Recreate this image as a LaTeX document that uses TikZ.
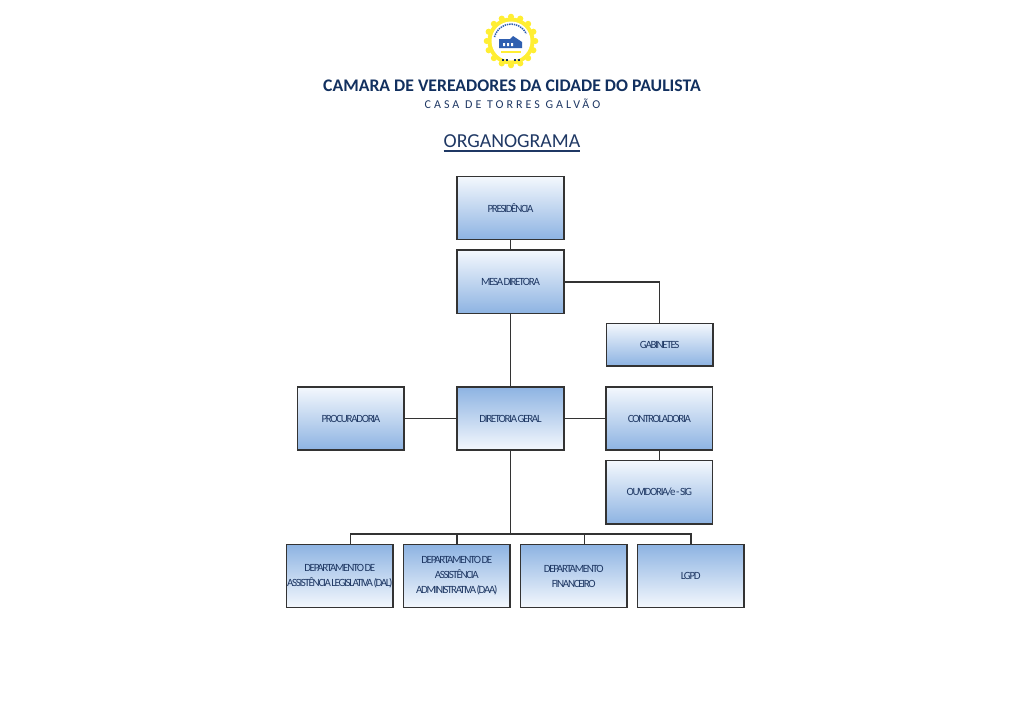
\documentclass[tikz,border=0pt]{standalone}
\usepackage{fontspec}
\usepackage{xcolor}
\usetikzlibrary{positioning, calc}
\setmainfont{Carlito}
\newfontfamily\boxfont[LetterSpace=-12,WordSpace=0.4]{Carlito}
\newfontfamily\wideFont[LetterSpace=25]{Carlito}
\definecolor{Camara_Navy}{HTML}{12305F}
\definecolor{Camara_Text}{HTML}{1F3864}
\definecolor{Camara_Blue}{HTML}{8DB3E2}
\definecolor{Camara_Pale}{HTML}{F4F8FD}
\definecolor{Camara_Line}{HTML}{333333}
\definecolor{Camara_Gold}{HTML}{FFEE33}
\definecolor{Camara_Roof}{HTML}{2F5FB0}

\begin{document}
\begin{tikzpicture}[
  x=1pt, y=1pt,
  every node/.style={text=Camara_Text, inner sep=0pt, outer sep=0pt},
  blockup/.style={draw=Camara_Line, line width=1.5pt, top color=Camara_Pale, bottom color=Camara_Blue,
    minimum width=106.6pt, minimum height=63.4pt, align=center, font=\boxfont\fontsize{11}{15}\selectfont},
  blockdown/.style={blockup, top color=Camara_Blue, bottom color=Camara_Pale},
  arr/.style={draw=Camara_Line, line width=1.5pt}
]
  \useasboundingbox (0,0) rectangle (1024,-724);

  % Emblem
  \foreach \ang in {0,22.5,...,337.5}
    \fill[Camara_Gold] (511,-41) ++(\ang:24.2) circle (3.1pt);
  \fill[Camara_Gold] (511,-41) circle (23.5pt);
  \fill[white] (511,-41) circle (19.5pt);
  \draw[Camara_Roof, line width=1.5pt, dash pattern=on 1.4pt off 0.9pt] (494.5,-37) arc (166:26:17pt);
  \fill[Camara_Roof] (499,-48) -- (499,-39) -- (510,-39) -- (513,-36) -- (522,-42) -- (522,-48) -- cycle;
  \fill[white] (503,-46) rectangle ++(2,3) (507,-46) rectangle ++(2,3) (511,-46) rectangle ++(2,3);
  \fill[Camara_Gold] (501,-51) rectangle (521,-53);
  \draw[Camara_Navy, line width=1.2pt, dash pattern=on 2pt off 1.6pt] (502,-60) -- (508,-60) (514,-60) -- (520,-60);

  % Heading
  \node[font=\bfseries\fontsize{17.7}{20}\selectfont, text=Camara_Navy] (title) at (512,-85.5)
    {CAMARA DE VEREADORES DA CIDADE DO PAULISTA};
  \node[font=\wideFont\fontsize{12}{14}\selectfont] (subtitle) at (512.5,-104) {CASA DE TORRES GALVÃO};
  \node[font=\fontsize{19.8}{24}\selectfont] (orga) at (512,-141.5) {ORGANOGRAMA};
  \draw[Camara_Text, line width=1.3pt] ([yshift=-3pt]orga.base west) -- ([yshift=-3pt]orga.base east);

  % Upper column
  \node[blockup] (pres) at (510.5,-208) {PRESIDÊNCIA};
  \node[blockup, below=10.4pt of pres] (mesa) {MESA DIRETORA};
  \node[blockup, minimum height=42.5pt] (gab) at (659.7,-344.5) {GABINETES};

  % Middle row
  \node[blockdown] (dir) at (510.5,-418.5) {DIRETORIA GERAL};
  \node[blockup, left=53pt of dir] (proc) {PROCURADORIA};
  \node[blockup, right=42.3pt of dir] (contr) {CONTROLADORIA};
  \node[blockup, below=10.4pt of contr] (ouv) {OUVIDORIA/e\kern0.6pt-\kern0.6pt SIG};

  % Departments
  \node[blockdown] (dal) at (339.8,-576) {DEPARTAMENTO DE\\ASSISTÊNCIA LEGISLATIVA (DAL)};
  \node[blockdown, right=10.4pt of dal] (daa) {DEPARTAMENTO DE\\ASSISTÊNCIA\\ADMINISTRATIVA (DAA)};
  \node[blockdown, right=10.4pt of daa] (fin) {DEPARTAMENTO\\FINANCEIRO};
  \node[blockdown, right=10.4pt of fin] (lgpd) {LGPD};

  % Connectors
  \coordinate (bus) at (510.5,-534);
  \draw[arr] (pres) -- (mesa);
  \draw[arr] (mesa) -- (dir);
  \draw[arr] (mesa.east) -| (gab.north);
  \draw[arr] (proc) -- (dir);
  \draw[arr] (dir) -- (contr);
  \draw[arr] (contr) -- (ouv);
  \draw[arr] (dir.south) -- (bus);
  \draw[arr] ([xshift=10.5pt]dal.north) |- (bus);
  \draw[arr] (daa.north) |- (bus);
  \draw[arr] ([xshift=10.5pt]fin.north) |- (bus);
  \draw[arr] (lgpd.north) |- (bus);
\end{tikzpicture}
\end{document}
